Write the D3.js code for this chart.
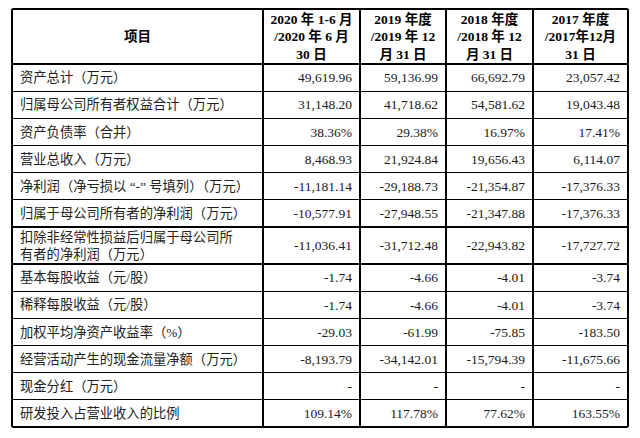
<!DOCTYPE html>
<meta charset="utf-8">
<style>
body { margin: 0; background: #fff; }
.grid line { stroke: #000; stroke-width: 1.2px; shape-rendering: crispEdges; }
.head { font-weight: bold; font-size: 13.5px; fill: #000; }
.label { font-size: 13.3px; fill: #222; }
.num { font-size: 13.5px; fill: #1a1a1a; }
text { font-family: "Liberation Serif", "Noto Sans CJK SC", serif; }
</style>
<svg width="640" height="438"></svg>
<script src="https://cdn.jsdelivr.net/npm/d3@7"></script>
<script>

// header of the first column and of each period column (one entry per line)
var itemHeader = "项目";
var periodHeaders = [
  ["2020 年 1-6 月", "/2020 年 6 月", "30 日"],
  ["2019 年度", "/2019 年 12", "月 31 日"],
  ["2018 年度", "/2018 年 12", "月 31 日"],
  ["2017 年度", "/2017年12月", "31 日"]
];

// row labels (one entry per line)
var items = [
  ["资产总计（万元）"],
  ["归属母公司所有者权益合计（万元）"],
  ["资产负债率（合并）"],
  ["营业总收入（万元）"],
  ["净利润（净亏损以 “-” 号填列）（万元）"],
  ["归属于母公司所有者的净利润（万元）"],
  ["扣除非经常性损益后归属于母公司所", "有者的净利润（万元）"],
  ["基本每股收益（元/股）"],
  ["稀释每股收益（元/股）"],
  ["加权平均净资产收益率（%）"],
  ["经营活动产生的现金流量净额（万元）"],
  ["现金分红（万元）"],
  ["研发投入占营业收入的比例"]
];

// how each row is written: money, percent, plain
var rowKind = ["money", "money", "pct", "money", "money", "money", "money",
               "plain", "plain", "plain", "money", "money", "pct"];

var values2020H1 = [49619.96, 31148.20, 38.36, 8468.93, -11181.14, -10577.91, -11036.41, -1.74, -1.74, -29.03, -8193.79, null, 109.14];
var values2019 = [59136.99, 41718.62, 29.38, 21924.84, -29188.73, -27948.55, -31712.48, -4.66, -4.66, -61.99, -34142.01, null, 117.78];
var values2018 = [66692.79, 54581.62, 16.97, 19656.43, -21354.87, -21347.88, -22943.82, -4.01, -4.01, -75.85, -15794.39, null, 77.62];
var values2017 = [23057.42, 19043.48, 17.41, 6114.07, -17376.33, -17376.33, -17727.72, -3.74, -3.74, -183.50, -11675.66, null, 163.55];

var columns = [values2020H1, values2019, values2018, values2017];

var locale = d3.formatLocale({decimal: ".", thousands: ",", grouping: [3], currency: ["", ""], minus: "-"});
var fmtMoney = locale.format(",.2f"),
    fmtPlain = locale.format(".2f");

function fmt(v, kind) {
  if (v == null) return "-";
  if (kind === "pct") return fmtPlain(v) + "%";
  if (kind === "money") return fmtMoney(v);
  return fmtPlain(v);
}

var svg = d3.select("svg");

// layout
var colEdges = [12, 263, 360, 446, 533, 628],
    tableTop = 9,
    headH = 55,
    rowH = 27.17,
    tallH = 37;

var rowY = [], yy = tableTop + headH;
items.forEach(function(d) {
  var h = d.length > 1 ? tallH : rowH;
  rowY.push({y0: yy, y1: yy + h});
  yy += h;
});
var tableBottom = yy;

var grid = svg.append("g").attr("class", "grid");

// horizontal rules
var hs = [tableTop, tableTop + headH].concat(rowY.map(function(r) { return r.y1; }));
grid.selectAll(".h")
    .data(hs)
  .enter().append("line")
    .attr("x1", colEdges[0]).attr("x2", colEdges[colEdges.length - 1])
    .attr("y1", function(d) { return d; }).attr("y2", function(d) { return d; });

// vertical rules
grid.selectAll(".v")
    .data(colEdges)
  .enter().append("line")
    .attr("y1", tableTop).attr("y2", tableBottom)
    .attr("x1", function(d) { return d; }).attr("x2", function(d) { return d; });

// header
svg.append("text")
    .attr("class", "head")
    .attr("x", (colEdges[0] + colEdges[1]) / 2)
    .attr("y", tableTop + headH / 2)
    .attr("dy", "0.35em")
    .attr("text-anchor", "middle")
    .text(itemHeader);

var lineH = 17.5;
periodHeaders.forEach(function(lines, j) {
  var cx = (colEdges[j + 1] + colEdges[j + 2]) / 2;
  svg.append("text")
      .attr("class", "head")
      .attr("text-anchor", "middle")
    .selectAll("tspan")
      .data(lines)
    .enter().append("tspan")
      .attr("x", cx)
      .attr("y", function(d, i) { return tableTop + headH / 2 + (i - (lines.length - 1) / 2) * lineH; })
      .attr("dy", "0.35em")
      .text(function(d) { return d; });
});

// row labels
items.forEach(function(lines, i) {
  var r = rowY[i], mid = (r.y0 + r.y1) / 2;
  svg.append("text")
      .attr("class", "label")
    .selectAll("tspan")
      .data(lines)
    .enter().append("tspan")
      .attr("x", 20)
      .attr("y", function(d, k) { return mid + (k - (lines.length - 1) / 2) * 17; })
      .attr("dy", "0.35em")
      .text(function(d) { return d; });
});

// values
columns.forEach(function(col, j) {
  svg.append("g").selectAll("text")
      .data(col)
    .enter().append("text")
      .attr("class", "num")
      .attr("text-anchor", "end")
      .attr("x", colEdges[j + 2] - 8)
      .attr("y", function(d, i) { return (rowY[i].y0 + rowY[i].y1) / 2; })
      .attr("dy", "0.35em")
      .text(function(d, i) { return fmt(d, rowKind[i]); });
});
</script>
